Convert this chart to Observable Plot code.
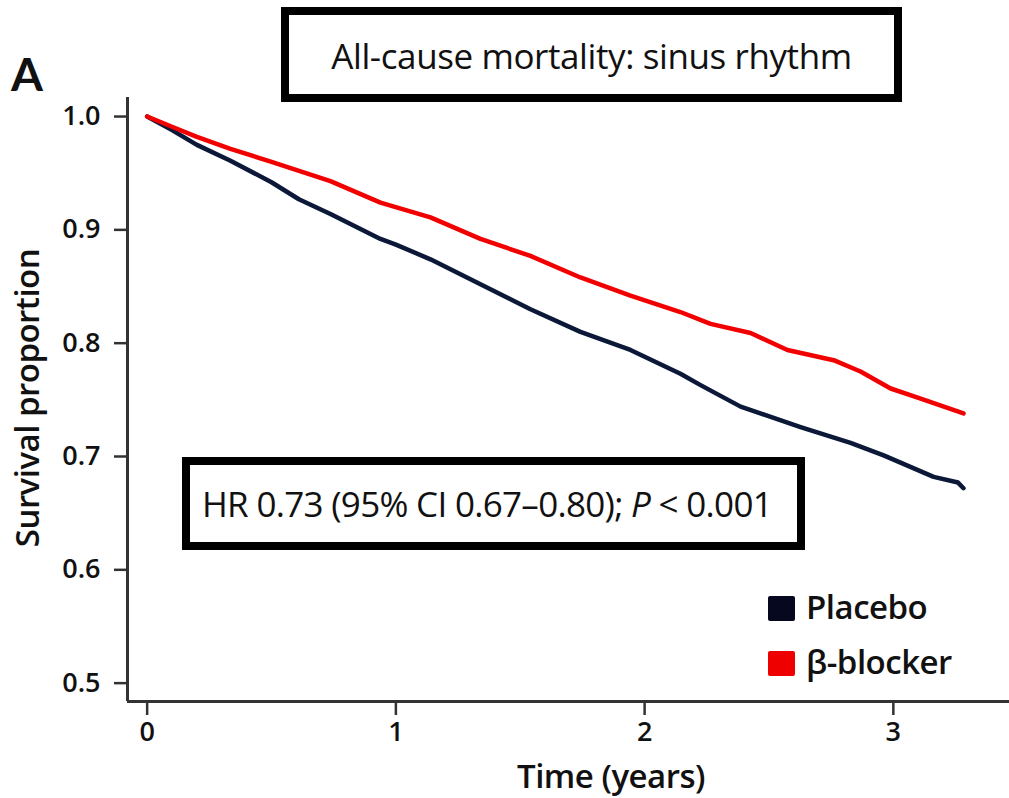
<!DOCTYPE html>
<html>
<head>
<meta charset="utf-8">
<script src="https://cdn.jsdelivr.net/npm/d3@7"></script>
<script src="https://cdn.jsdelivr.net/npm/@observablehq/plot@0.6"></script>
<style>
  html, body { margin: 0; padding: 0; background: #fff; }
  #wrap { position: relative; width: 1009px; height: 798px; font-family: "Open Sans", "Lato", sans-serif; }
  #wrap svg { position: absolute; left: 0; top: 0; }
  .box { position: absolute; border: 8px solid #000; box-sizing: border-box; background: #fff;
         display: flex; align-items: center; color: #111; white-space: nowrap; }
  .lbl { position: absolute; color: #111; white-space: nowrap; }
  .sw { position: absolute; width: 27px; height: 25px; border-radius: 2px; }
</style>
</head>
<body>
<div id="wrap"></div>
<script>
// ---- data ----
const placeboTime = [0, 0.1, 0.2, 0.335, 0.5, 0.61, 0.737, 0.938, 1.0, 1.139, 1.34, 1.541, 1.742, 1.943, 2.144, 2.225, 2.386, 2.627, 2.828, 2.961, 3.162, 3.26, 3.282];
const placeboSurv = [1.0, 0.988, 0.975, 0.961, 0.942, 0.927, 0.914, 0.892, 0.887, 0.874, 0.852, 0.830, 0.810, 0.794, 0.773, 0.763, 0.744, 0.726, 0.712, 0.701, 0.682, 0.677, 0.672];
const betaTime = [0, 0.1, 0.2, 0.335, 0.5, 0.737, 0.938, 1.139, 1.34, 1.541, 1.742, 1.943, 2.144, 2.265, 2.426, 2.574, 2.76, 2.868, 2.989, 3.098, 3.282];
const betaSurv = [1.0, 0.991, 0.982, 0.9715, 0.960, 0.943, 0.924, 0.911, 0.892, 0.877, 0.858, 0.842, 0.8275, 0.817, 0.809, 0.794, 0.785, 0.775, 0.760, 0.752, 0.738];
const seriesNames = ["Placebo", "β-blocker"];
const seriesColors = ["#0b1838", "#f20000"];
const legendColors = ["#05081e", "#ee0000"];
const xTicks = [0, 1, 2, 3];
const yTicks = [0.5, 0.6, 0.7, 0.8, 0.9, 1.0];
const xDomain = [-0.079, 3.467];
const yDomain = [0.4838, 1.0168];
const titleText = "All-cause mortality: sinus rhythm";
const panelLetter = "A";
const xLabel = "Time (years)";
const yLabel = "Survival proportion";

const rows = [
  ...placeboTime.map((t, i) => ({t, s: placeboSurv[i], g: seriesNames[0]})),
  ...betaTime.map((t, i) => ({t, s: betaSurv[i], g: seriesNames[1]}))
];

const axisColor = "#333";
const chart = Plot.plot({
  width: 1009,
  height: 798,
  marginLeft: 127,
  marginRight: 0,
  marginTop: 97,
  marginBottom: 97,
  style: {fontFamily: "'Open Sans', Lato, sans-serif", fontSize: "27px", color: "#111", background: "transparent"},
  x: {domain: xDomain},
  y: {domain: yDomain},
  color: {domain: seriesNames, range: seriesColors},
  marks: [
    Plot.ruleY([yDomain[0]], {stroke: axisColor, strokeWidth: 3}),
    Plot.ruleX([xDomain[0]], {stroke: axisColor, strokeWidth: 3}),
    Plot.axisX(xTicks, {tickSize: 14, tickPadding: 6, stroke: axisColor, strokeWidth: 2.5, label: null, tickFormat: d3.format("d"), fontSize: 27, fill: "#111", fontWeight: 600}),
    Plot.axisY(yTicks, {tickSize: 13, tickPadding: 14, stroke: axisColor, strokeWidth: 2.5, label: null, tickFormat: d3.format(".1f"), fontSize: 27, fill: "#111", fontWeight: 600}),
    Plot.line(rows, {x: "t", y: "s", z: "g", stroke: "g", strokeWidth: 4.5, curve: "linear"})
  ]
});

const wrap = document.getElementById("wrap");
wrap.appendChild(chart);

function el(cls, style, html) {
  const d = document.createElement("div");
  d.className = cls;
  Object.assign(d.style, style);
  if (html != null) d.innerHTML = html;
  wrap.appendChild(d);
  return d;
}

// title box
el("box", {left: "281px", top: "7px", width: "621px", height: "95px", justifyContent: "center",
  fontSize: "35px", fontWeight: "500", letterSpacing: "-0.4px", paddingTop: "2px"}, titleText);
// panel letter
el("lbl", {left: "11px", top: "46px", fontSize: "46px", fontWeight: "700", fontFamily: "Lato, 'Open Sans', sans-serif"}, panelLetter);
// HR box
el("box", {left: "182px", top: "457px", width: "623px", height: "93px", justifyContent: "flex-start",
  paddingLeft: "12px", fontSize: "35px", fontWeight: "500", letterSpacing: "-0.7px"},
  "HR 0.73 (95% CI 0.67–0.80);&nbsp;<i>P</i>&nbsp;&lt; 0.001");
// axis titles
el("lbl", {left: "611px", top: "775px", transform: "translate(-50%,-50%)", fontSize: "33px", fontWeight: "600", letterSpacing: "-0.5px"}, xLabel);
el("lbl", {left: "26px", top: "398px", transform: "translate(-50%,-50%) rotate(-90deg)", fontSize: "33px", fontWeight: "600", letterSpacing: "-0.5px"}, yLabel);
// legend
const legTop = [596, 651];
seriesNames.forEach((n, i) => {
  el("sw", {left: "768px", top: legTop[i] + "px", background: legendColors[i]});
  el("lbl", {left: "806px", top: (legTop[i] - 12) + "px", fontSize: "33px", fontWeight: "600", letterSpacing: "-0.5px"}, n);
});
</script>
</body>
</html>
